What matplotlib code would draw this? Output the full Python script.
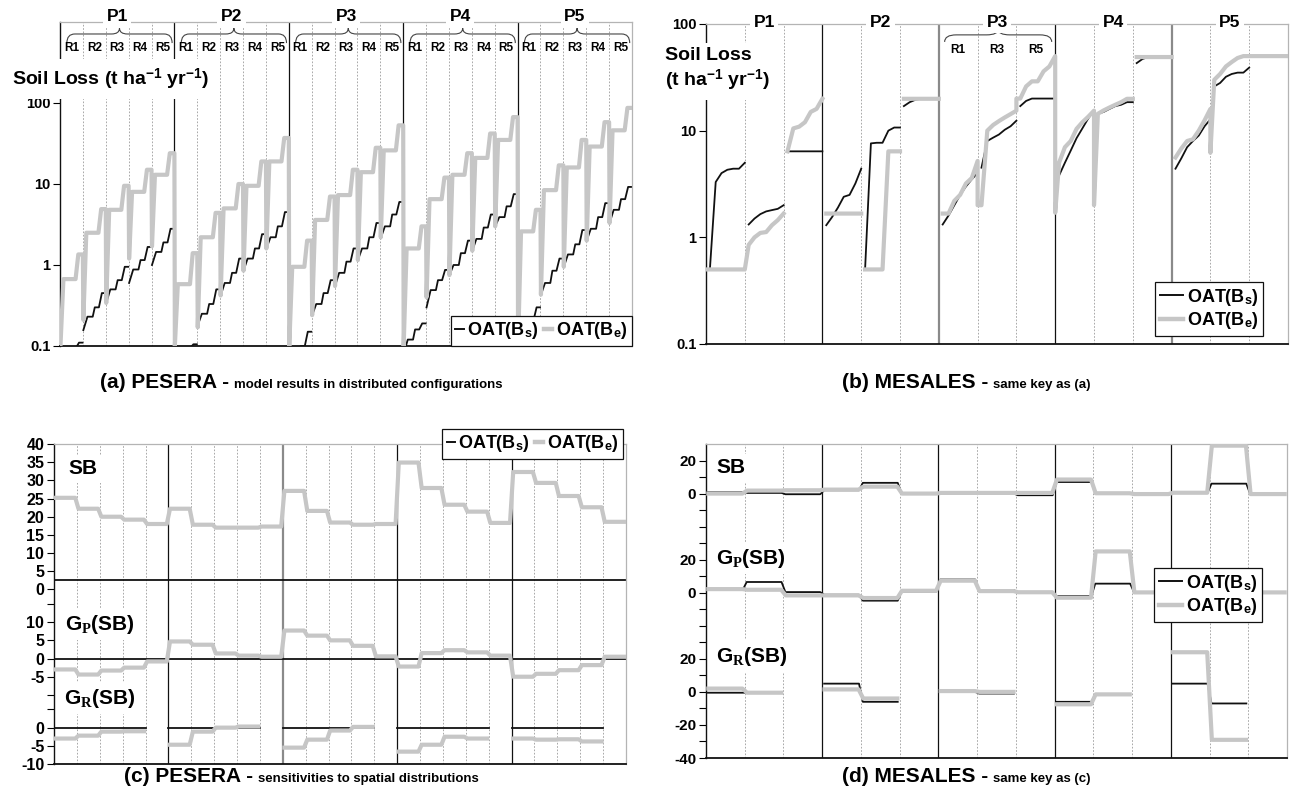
import numpy as np
import matplotlib
matplotlib.use("Agg")
import matplotlib.pyplot as plt
import matplotlib.patches as mpatches
from matplotlib.lines import Line2D
from matplotlib.path import Path
from matplotlib.ticker import NullLocator

plt.rcParams["font.family"] = ["Liberation Sans", "DejaVu Sans"]
plt.rcParams["font.weight"] = "bold"
plt.rcParams["mathtext.fontset"] = "custom"
plt.rcParams["mathtext.rm"] = "Liberation Sans:bold"
plt.rcParams["mathtext.bf"] = "Liberation Sans:bold"
plt.rcParams["mathtext.it"] = "Liberation Serif:bold"

W, H = 1290, 808
GRAY = "#c6c6c6"
BLACK = "#111111"
GRID = "#9a9a9a"
FRAME = "#b4b4b4"
TICK_FONT = ["Liberation Sans Narrow", "Liberation Sans"]
N = np.nan

# ---------------- (a) PESERA soil loss, 5 plots x 5 rainfall classes ----------
# OAT(Bs): start value + three steps per class
a_bs_p1 = [[0.06, 0.08, 0.095, 0.11], [0.157, 0.23, 0.30, 0.45], [0.34, 0.50, 0.65, 0.95],
           [0.60, 0.88, 1.15, 1.67], [1.00, 1.45, 1.90, 2.80]]
a_bs_p2 = [[0.06, 0.08, 0.095, 0.105], [0.18, 0.25, 0.33, 0.50], [0.42, 0.60, 0.80, 1.20],
           [0.85, 1.20, 1.60, 2.40], [1.60, 2.20, 3.00, 4.50]]
a_bs_p3 = [[0.06, 0.085, 0.10, 0.15], [0.24, 0.33, 0.45, 0.65], [0.55, 0.80, 1.10, 1.60],
           [1.15, 1.60, 2.20, 3.30], [2.15, 3.00, 4.20, 6.00]]
a_bs_p4 = [[0.08, 0.12, 0.16, 0.19], [0.30, 0.49, 0.65, 0.87], [0.75, 1.00, 1.40, 2.00],
           [1.50, 2.10, 2.90, 4.20], [3.00, 3.90, 5.30, 7.50]]
a_bs_p5 = [[0.10, 0.15, 0.21, 0.30], [0.43, 0.60, 0.85, 1.20], [0.95, 1.35, 1.80, 2.70],
           [2.00, 2.80, 3.90, 5.80], [3.30, 4.80, 6.50, 9.20]]
# OAT(Be): start value + two steps per class
a_be_p1 = [[0.10, 0.67, 1.35], [0.21, 2.5, 4.9], [0.34, 4.8, 9.5], [1.2, 8.0, 15.0], [1.7, 13.0, 24.0]]
a_be_p2 = [[0.10, 0.58, 1.4], [0.17, 2.2, 4.4], [0.42, 5.0, 10.0], [0.85, 9.5, 19.0], [1.6, 19.0, 37.0]]
a_be_p3 = [[0.10, 0.95, 2.0], [0.24, 3.6, 7.0], [0.55, 7.3, 15.0], [1.15, 14.0, 28.0], [2.2, 26.0, 53.0]]
a_be_p4 = [[0.10, 1.6, 3.0], [0.40, 6.5, 12.0], [0.75, 13.0, 24.0], [1.5, 21.0, 42.0], [3.0, 35.0, 67.0]]
a_be_p5 = [[0.10, 2.6, 4.8], [0.43, 8.4, 17.0], [0.95, 16.0, 35.0], [2.0, 29.0, 58.0], [3.3, 46.0, 87.0]]

# ---------------- (b) MESALES soil loss, 5 plots x classes R1/R3/R5 ----------
# values sampled across each class at FRAC_B
FRAC_B = [0.0, 0.1, 0.25, 0.4, 0.55, 0.7, 0.85, 1.0]
b_bs_p1 = [[N, 0.5, 3.3, 4.0, 4.3, 4.4, 4.4, 5.0], [N, 1.32, 1.5, 1.65, 1.75, 1.8, 1.85, 2.0],
           [N, 6.4, 6.4, 6.4, 6.4, 6.4, 6.4, 6.4]]
b_be_p1 = [[0.5, 0.5, 0.5, 0.5, 0.5, 0.5, 0.5, 0.5], [0.5, 0.85, 1.0, 1.1, 1.12, 1.3, 1.45, 1.67],
           [N, 6.4, 10.5, 10.9, 12.0, 15.0, 16.0, 19.9]]
b_bs_p2 = [[N, 1.3, 1.55, 1.9, 2.4, 2.5, 3.2, 4.4], [N, 0.5, 7.6, 7.7, 7.7, 10.0, 10.7, 10.7],
           [N, 17.0, 18.5, 19.5, 19.9, 19.9, 19.9, 19.9]]
b_be_p2 = [[N, 1.67, 1.67, 1.67, 1.67, 1.67, 1.67, 1.67], [N, 0.5, 0.5, 0.5, 0.5, 6.4, 6.4, 6.4],
           [N, 19.9, 19.9, 19.9, 19.9, 19.9, 19.9, 19.9]]
b_bs_p3 = [[N, 1.32, 1.6, 2.0, 2.5, 3.0, 3.5, 4.0], [N, 4.5, 8.0, 8.6, 9.2, 10.2, 11.0, 12.4],
           [N, 17.0, 19.0, 20.0, 20.0, 20.0, 20.0, 20.0]]
b_be_p3 = [[N, 1.67, 1.67, 2.2, 2.5, 3.2, 3.6, 5.2], [2.0, 2.0, 10.0, 11.3, 12.3, 13.3, 14.3, 15.4],
           [20.0, 20.0, 26.0, 29.0, 29.0, 36.0, 40.0, 50.0]]
b_bs_p4 = [[N, 3.8, 5.0, 6.5, 8.5, 10.5, 13.0, 15.4], [N, 14.4, 15.0, 16.0, 17.0, 17.5, 18.5, 18.5],
           [N, 43.0, 47.0, 49.0, 49.0, 49.0, 49.0, 49.0]]
b_be_p4 = [[1.7, 5.0, 7.0, 8.0, 10.4, 12.0, 13.5, 15.4], [2.0, 14.4, 15.5, 16.5, 17.5, 18.5, 19.9, 19.9],
           [N, 49.0, 49.0, 49.0, 49.0, 49.0, 49.0, 49.0]]
b_bs_p5 = [[N, 4.4, 5.5, 7.0, 8.0, 9.0, 11.0, 12.8], [N, 26.0, 28.0, 32.0, 34.0, 35.0, 35.0, 39.0],
           [N, N, N, N, N, N, N, N]]
b_be_p5 = [[N, 5.6, 6.8, 8.0, 8.3, 10.0, 12.5, 16.0], [6.2, 30.0, 34.0, 40.0, 44.0, 48.0, 50.0, 50.0],
           [50.0, 50.0, 50.0, 50.0, 50.0, 50.0, 50.0, 50.0]]

# ---------------- (c) PESERA sensitivities, one level per class ----------
c_sb_be = [25.2, 22.2, 20.0, 19.2, 18.0, 22.2, 17.8, 17.0, 17.0, 17.3, 27.1, 21.6, 18.4, 17.8, 18.0,
           34.9, 27.9, 23.3, 21.4, 18.3, 32.3, 29.3, 25.7, 22.6, 18.6]
c_sb_bs = [2.7] * 25
c_gp_be = [-3.0, -4.4, -3.3, -2.5, -0.8, 4.7, 3.8, 1.4, 0.8, 0.5, 7.7, 6.3, 5.0, 3.5, 0.6,
           -2.2, 1.5, 2.3, 1.7, 0.8, -5.0, -4.2, -3.2, -1.8, 0.5]
c_gp_bs = [0.0] * 25
c_gr_be = [-3.0, -2.2, -1.1, -1.0, N, -4.7, -1.1, 0.0, 0.3, N, -5.5, -3.3, -0.8, 0.2, N,
           -6.6, -4.7, -2.5, -3.0, N, -3.0, -3.3, -3.2, -3.8, N]
c_gr_bs = [0.0, 0.0, 0.0, 0.0, N] * 5
C_OFFSETS = (0, -19, -38)

# ---------------- (d) MESALES sensitivities ----------
d_sb_bs = [0.8, 0.4, -0.4, 2.0, 6.5, 0.0, 0.0, 0.0, -1.0, 7.0, 0.0, -0.5, 0.5, 6.0, -0.3]
d_sb_be = [0.0, 1.8, 2.0, 2.4, 4.2, 0.0, 0.4, 0.4, 0.4, 8.5, 0.2, -0.3, 0.5, 29.0, -0.3]
d_gp_bs = [1.8, 6.5, 0.4, -1.2, -4.8, 0.8, 8.0, 1.5, 0.5, -2.0, 5.5, 0.3, 0.3, 0.3, 0.3]
d_gp_be = [2.2, 1.8, -1.6, -1.6, -3.2, 1.2, 7.3, 1.0, 0.3, -3.0, 25.0, 0.2, 0.2, 0.2, 0.2]
d_gr_bs = [-0.5, -0.5, N, 5.0, -6.0, N, 0.0, -1.0, N, -6.0, -1.5, N, 5.0, -7.0, N]
d_gr_be = [2.0, -0.5, N, 1.5, -4.0, N, 0.5, 0.0, N, -7.5, -1.5, N, 24.0, -29.0, N]
D_OFFSETS = (0, -60, -120)


def shaped(levels_by_class, fracs, idx, joined=True):
    xs, ys = [], []
    for i, lv in enumerate(levels_by_class):
        xs += [i + f for f in fracs]
        ys += [lv[k] for k in idx]
        if not joined:
            xs.append(np.nan)
            ys.append(np.nan)
    return np.array(xs), np.array(ys, dtype=float)


def stepped(levels, r):
    xs, ys = [], []
    for i, v in enumerate(levels):
        xs += [i + r, i + 1 - r]
        ys += [v, v]
    return np.array(xs), np.array(ys, dtype=float)


fig = plt.figure(figsize=(W / 100, H / 100), dpi=100)


def px_axes(left, top, right, bottom):
    return fig.add_axes([left / W, 1 - bottom / H, (right - left) / W, (bottom - top) / H])


def frame(ax, n_classes, divider_styles, labelsize=10.5):
    total = 5 * n_classes
    ax.set_xlim(0, total)
    ax.set_xticks([])
    for k in range(1, total):
        if k % n_classes == 0:
            color, lw = divider_styles[k // n_classes - 1]
            ax.axvline(k, color=color, lw=lw, zorder=1)
        else:
            ax.axvline(k, color=GRID, lw=0.6, dashes=(2, 2), zorder=0.5)
    ax.spines["left"].set_color(BLACK)
    ax.spines["left"].set_linewidth(1.0)
    ax.spines["bottom"].set_color(BLACK)
    ax.spines["bottom"].set_linewidth(1.3)
    for s in ("top", "right"):
        ax.spines[s].set_color(FRAME)
        ax.spines[s].set_linewidth(0.9)
    ax.tick_params(axis="y", direction="out", length=5, width=0.8, pad=2, labelsize=labelsize)
    ax.yaxis.set_minor_locator(NullLocator())


def narrow_ticks(ax):
    for lbl in ax.get_yticklabels():
        lbl.set_fontfamily(TICK_FONT)
        lbl.set_fontweight("bold")


def headers(ax, n_classes, y):
    for p in range(5):
        ax.text(p * n_classes + n_classes / 2, y, f"P{p + 1}", transform=ax.get_xaxis_transform(),
                ha="center", va="center", fontsize=12.5, fontweight="bold", zorder=6, clip_on=False,
                bbox=dict(facecolor="white", edgecolor="none", pad=2.5))


def brace(ax, x0, x1, y_end, y_mid, y_tip, d):
    xc = (x0 + x1) / 2
    verts = [(x0, y_end), (x0, y_mid), (x0 + d, y_mid), (xc - d, y_mid), (xc, y_mid), (xc, y_tip),
             (xc, y_mid), (xc + d, y_mid), (x1 - d, y_mid), (x1, y_mid), (x1, y_end)]
    codes = [Path.MOVETO, Path.CURVE3, Path.CURVE3, Path.LINETO, Path.CURVE3, Path.CURVE3,
             Path.CURVE3, Path.CURVE3, Path.LINETO, Path.CURVE3, Path.CURVE3]
    ax.add_patch(mpatches.PathPatch(Path(verts, codes), transform=ax.get_xaxis_transform(),
                                    facecolor="none", edgecolor="#444444", lw=0.8, zorder=4,
                                    clip_on=False))


def legend(ax, ncol, **kw):
    handles = [Line2D([], [], color=BLACK, lw=1.4), Line2D([], [], color=GRAY, lw=3.2)]
    labels = [r"OAT(B$_{\mathrm{s}}$)", r"OAT(B$_{\mathrm{e}}$)"]
    leg = ax.legend(handles, labels, ncol=ncol, frameon=True, fancybox=False, framealpha=1,
                    edgecolor=BLACK, prop={"weight": "bold", "size": 13}, borderaxespad=0,
                    borderpad=0.25, labelspacing=0.15, **kw)
    leg.get_frame().set_linewidth(0.9)
    leg.set_zorder(10)


def caption(x_px, y_px, big, small):
    fig.text(x_px / W, 1 - y_px / H, big, ha="right", va="baseline", fontsize=15, fontweight="bold")
    fig.text((x_px + 5) / W, 1 - y_px / H, small, ha="left", va="baseline", fontsize=9.5,
             fontweight="bold")


LABEL_BOX = dict(facecolor="white", edgecolor="none", pad=5)

# ---------------- panel (a) ----------------
ax_a = px_axes(60, 22, 632, 346)
frame(ax_a, 5, [(BLACK, 0.9)] * 4)
ax_a.set_yscale("log")
ax_a.set_ylim(0.1, 1000)
ax_a.set_yticks([0.1, 1, 10, 100], ["0.1", "1", "10", "100"])
ax_a.yaxis.set_minor_locator(NullLocator())
narrow_ticks(ax_a)

a_bs = a_bs_p1 + a_bs_p2 + a_bs_p3 + a_bs_p4 + a_bs_p5
a_be = a_be_p1 + a_be_p2 + a_be_p3 + a_be_p4 + a_be_p5
x, y = shaped(a_bs, [0.02, 0.2, 0.43, 0.52, 0.7, 0.83, 0.98], [0, 1, 1, 2, 2, 3, 3], joined=False)
ax_a.plot(x, y, color=BLACK, lw=1.3, zorder=2)
x, y = shaped(a_be, [0.02, 0.15, 0.68, 0.8, 1.0], [0, 1, 1, 2, 2])
ax_a.plot(x, y, color=GRAY, lw=3.0, zorder=3, solid_joinstyle="round")

headers(ax_a, 5, 1.016)
for p in range(5):
    brace(ax_a, p * 5 + 0.3, p * 5 + 4.9, 0.935, 0.963, 0.981, 0.35)
    for r in range(5):
        ax_a.text(p * 5 + r + 0.5, 0.92, f"R{r + 1}", transform=ax_a.get_xaxis_transform(),
                  ha="center", va="center", fontsize=8.5, fontweight="bold", zorder=5)
legend(ax_a, 2, loc="lower right", bbox_to_anchor=(1.0, 0.0), handlelength=0.45,
       handletextpad=0.2, columnspacing=0.3)
fig.text(12 / W, 1 - 79 / H, r"Soil Loss (t ha$^{\mathbf{-1}}$ yr$^{\mathbf{-1}}$)", ha="left",
         va="center", fontsize=14, fontweight="bold", bbox=LABEL_BOX)

# ---------------- panel (b) ----------------
ax_b = px_axes(706, 24, 1288, 344)
frame(ax_b, 3, [(BLACK, 0.9), ("#8a8a8a", 1.6), (BLACK, 0.9), ("#8a8a8a", 1.6)])
ax_b.set_yscale("log")
ax_b.set_ylim(0.1, 100)
ax_b.set_yticks([0.1, 1, 10, 100], ["0.1", "1", "10", "100"])
ax_b.yaxis.set_minor_locator(NullLocator())
narrow_ticks(ax_b)

b_bs = b_bs_p1 + b_bs_p2 + b_bs_p3 + b_bs_p4 + b_bs_p5
b_be = b_be_p1 + b_be_p2 + b_be_p3 + b_be_p4 + b_be_p5
x, y = shaped(b_bs, FRAC_B, range(len(FRAC_B)))
ax_b.plot(x, y, color=BLACK, lw=1.3, zorder=2)
x, y = shaped(b_be, FRAC_B, range(len(FRAC_B)))
ax_b.plot(x, y, color=GRAY, lw=3.0, zorder=3, solid_joinstyle="round")

headers(ax_b, 3, 1.006)
brace(ax_b, 6.15, 8.91, 0.944, 0.966, 0.984, 0.3)
for r, name in enumerate(["R1", "R3", "R5"]):
    ax_b.text(6 + r + 0.5, 0.919, name, transform=ax_b.get_xaxis_transform(), ha="center",
              va="center", fontsize=8.5, fontweight="bold", zorder=5)
legend(ax_b, 1, loc="lower right", bbox_to_anchor=(0.957, 0.025), handlelength=1.3,
       handletextpad=0.2)
fig.text(665 / W, 1 - 70 / H, "Soil Loss\n" + r"(t ha$^{\mathbf{-1}}$ yr$^{\mathbf{-1}}$)",
         ha="left", va="center", fontsize=14, fontweight="bold", linespacing=1.25, bbox=LABEL_BOX)

# ---------------- panel (c) ----------------
ax_c = px_axes(54, 444, 626, 764)
frame(ax_c, 5, [(BLACK, 0.9), ("#8a8a8a", 1.6), (BLACK, 0.9), (BLACK, 0.9)], labelsize=11.5)
ax_c.set_ylim(-48, 40)
c_ticks, c_labels = [], []
for off, vals, shown in [(C_OFFSETS[0], range(0, 45, 5), range(0, 45, 5)),
                         (C_OFFSETS[1], [15, 10, 5, 0, -5, -10], [10, 5, 0, -5]),
                         (C_OFFSETS[2], [5, 0, -5, -10], [0, -5, -10])]:
    for v in vals:
        c_ticks.append(v + off)
        c_labels.append(str(v) if v in shown else "")
ax_c.set_yticks(c_ticks, c_labels)
narrow_ticks(ax_c)

for off, bs, be in [(C_OFFSETS[0], c_sb_bs, c_sb_be), (C_OFFSETS[1], c_gp_bs, c_gp_be),
                    (C_OFFSETS[2], c_gr_bs, c_gr_be)]:
    x, y = stepped(bs, 0.0)
    ax_c.plot(x, y + off, color=BLACK, lw=1.3, zorder=2)
    x, y = stepped(be, 0.07)
    ax_c.plot(x, y + off, color=GRAY, lw=3.0, zorder=3, solid_joinstyle="round")
legend(ax_c, 2, loc="upper right", bbox_to_anchor=(0.995, 1.047), handlelength=0.45,
       handletextpad=0.2, columnspacing=0.3)
for txt, xp, yp in [("SB", 68, 469), (r"G$_{P}$(SB)", 65, 624), (r"G$_{R}$(SB)", 64, 698)]:
    fig.text(xp / W, 1 - yp / H, txt, ha="left", va="center", fontsize=15, fontweight="bold",
             bbox=dict(facecolor="white", edgecolor="none", pad=3))

# ---------------- panel (d) ----------------
ax_d = px_axes(706, 444, 1287, 758)
frame(ax_d, 3, [(BLACK, 0.9)] * 4, labelsize=11)
ax_d.set_ylim(-160, 30)
d_named = {20: "20", 0: "0", -40: "20", -60: "0", -100: "20", -120: "0", -140: "-20", -160: "-40"}
d_ticks = list(range(20, -170, -10))
ax_d.set_yticks(d_ticks, [d_named.get(t, "") for t in d_ticks])
narrow_ticks(ax_d)

for off, bs, be in [(D_OFFSETS[0], d_sb_bs, d_sb_be), (D_OFFSETS[1], d_gp_bs, d_gp_be),
                    (D_OFFSETS[2], d_gr_bs, d_gr_be)]:
    x, y = stepped(bs, 0.05)
    ax_d.plot(x, y + off, color=BLACK, lw=1.3, zorder=2)
    x, y = stepped(be, 0.06)
    ax_d.plot(x, y + off, color=GRAY, lw=3.0, zorder=3, solid_joinstyle="round")
legend(ax_d, 1, loc="upper right", bbox_to_anchor=(0.957, 0.605), handlelength=1.3,
       handletextpad=0.2)
for txt, xp, yp in [("SB", 716, 468), (r"G$_{P}$(SB)", 716, 558), (r"G$_{R}$(SB)", 716, 656)]:
    fig.text(xp / W, 1 - yp / H, txt, ha="left", va="center", fontsize=15, fontweight="bold",
             bbox=dict(facecolor="white", edgecolor="none", pad=3))

# ---------------- captions ----------------
caption(229, 388, "(a) PESERA -", "model results in distributed configurations")
caption(988, 388, "(b) MESALES -", "same key as (a)")
caption(253, 782, "(c) PESERA -", "sensitivities to spatial distributions")
caption(988, 782, "(d) MESALES -", "same key as (c)")

fig.savefig("out.png", dpi=100, facecolor="white")
